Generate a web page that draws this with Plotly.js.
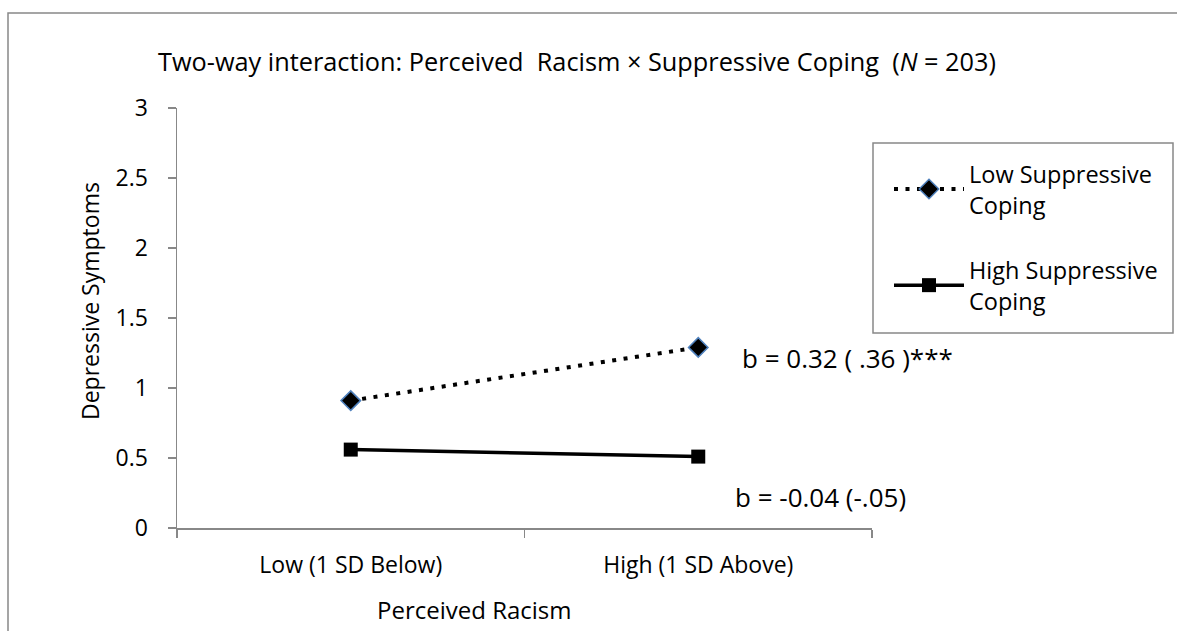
<!DOCTYPE html>
<html>
<head>
<meta charset="utf-8">
<script src="https://cdn.plot.ly/plotly-3.0.1.min.js"></script>
<style>html,body{margin:0;padding:0;background:#fff;}#chart{width:1177px;height:631px;}</style>
</head>
<body>
<div id="chart"></div>
<script>
const categories = ["Low (1 SD Below)", "High (1 SD Above)"];
const lowSuppressive = [0.91, 1.29];
const highSuppressive = [0.56, 0.51];
const seriesNames = ["Low Suppressive<br>Coping", "High Suppressive<br>Coping"];
const slopeLabels = ["b = 0.32 ( .36 )***", "b = -0.04 (-.05)"];
const yTicks = [0, 0.5, 1, 1.5, 2, 2.5, 3];
const chartTitle = "Two-way interaction: Perceived  Racism × Suppressive Coping  (<i>N</i> = 203)";
const xTitle = "Perceived Racism";
const yTitle = "Depressive Symptoms";

const FONT = "Open Sans, Noto Sans, sans-serif";
const L = 177, R = 305, T = 108, B = 103;
const W = 1177 - L - R, H = 631 - T - B;
const px = v => (v - L) / W;
const py = v => (631 - B - v) / H;

const traces = [
  {
    x: categories, y: lowSuppressive, name: seriesNames[0], type: "scatter", mode: "lines+markers",
    legendgroup: "a",
    line: {color: "#000", width: 4, dash: "4px,7.5px"},
    marker: {symbol: "diamond", size: 15, color: "#000", line: {color: "#4F81BD", width: 1.5}}
  },
  {
    x: categories, y: highSuppressive, name: seriesNames[1], type: "scatter", mode: "lines+markers",
    legendgroup: "b",
    line: {color: "#000", width: 3.5},
    marker: {symbol: "square", size: 14, color: "#000", line: {color: "#000", width: 0}}
  }
];

const layout = {
  width: 1177, height: 631,
  margin: {l: L, r: R, t: T, b: B, pad: 0},
  paper_bgcolor: "#fff", plot_bgcolor: "#fff",
  font: {family: FONT, color: "#000", size: 23},
  showlegend: true,
  title: {
    text: chartTitle,
    font: {family: FONT, size: 25.3, color: "#000"},
    x: 158 / 1177, xanchor: "left", xref: "container",
    y: 1 - 62 / 631, yanchor: "middle", yref: "container"
  },
  xaxis: {
    type: "category", categoryorder: "array", categoryarray: categories,
    range: [-0.5, 1.5],
    showline: true, linecolor: "#888", linewidth: 1.5,
    ticks: "outside", tickson: "boundaries", ticklen: 8, tickcolor: "#888", tickwidth: 1.5,
    ticklabelstandoff: 16,
    showgrid: false, zeroline: false,
    tickfont: {family: FONT, size: 23, color: "#000"},
    fixedrange: true
  },
  yaxis: {
    range: [0, 3], tickvals: yTicks, ticktext: yTicks.map(String),
    showline: true, linecolor: "#888", linewidth: 1.5,
    ticks: "outside", ticklen: 8, tickcolor: "#888", tickwidth: 1.5,
    ticklabelstandoff: 15,
    showgrid: false, zeroline: false,
    tickfont: {family: FONT, size: 23, color: "#000"},
    fixedrange: true
  },
  legend: {
    x: px(873), xanchor: "left", y: py(152), yanchor: "top",
    borderwidth: 0, bgcolor: "rgba(0,0,0,0)",
    font: {family: FONT, size: 23.5, color: "#000"},
    itemwidth: 70, tracegroupgap: 32, indentation: 16,
    traceorder: "grouped"
  },
  annotations: [
    {xref: "paper", yref: "paper", x: px(740), y: py(358), xanchor: "left", yanchor: "middle",
     text: slopeLabels[0], showarrow: false, font: {family: FONT, size: 26, color: "#000"}},
    {xref: "paper", yref: "paper", x: px(733), y: py(497), xanchor: "left", yanchor: "middle",
     text: slopeLabels[1], showarrow: false, font: {family: FONT, size: 26, color: "#000"}},
    {xref: "paper", yref: "paper", x: px(474), y: py(609), xanchor: "center", yanchor: "middle",
     text: xTitle, showarrow: false, font: {family: FONT, size: 24, color: "#000"}},
    {xref: "paper", yref: "paper", x: px(90), y: py(301), xanchor: "center", yanchor: "middle",
     text: yTitle, textangle: -90, showarrow: false, font: {family: FONT, size: 23, color: "#000"}}
  ],
  shapes: [
    {type: "rect", xref: "paper", yref: "paper", x0: px(8), x1: px(1250), y0: py(700), y1: py(13),
     line: {color: "#888", width: 1.5}, fillcolor: "rgba(0,0,0,0)", layer: "below"},
    {type: "rect", xref: "paper", yref: "paper", x0: px(873), x1: px(1173), y0: py(333), y1: py(143),
     line: {color: "#888", width: 1.5}, fillcolor: "#fff", layer: "below"}
  ]
};

Plotly.newPlot("chart", traces, layout, {displayModeBar: false, staticPlot: true});
</script>
</body>
</html>
